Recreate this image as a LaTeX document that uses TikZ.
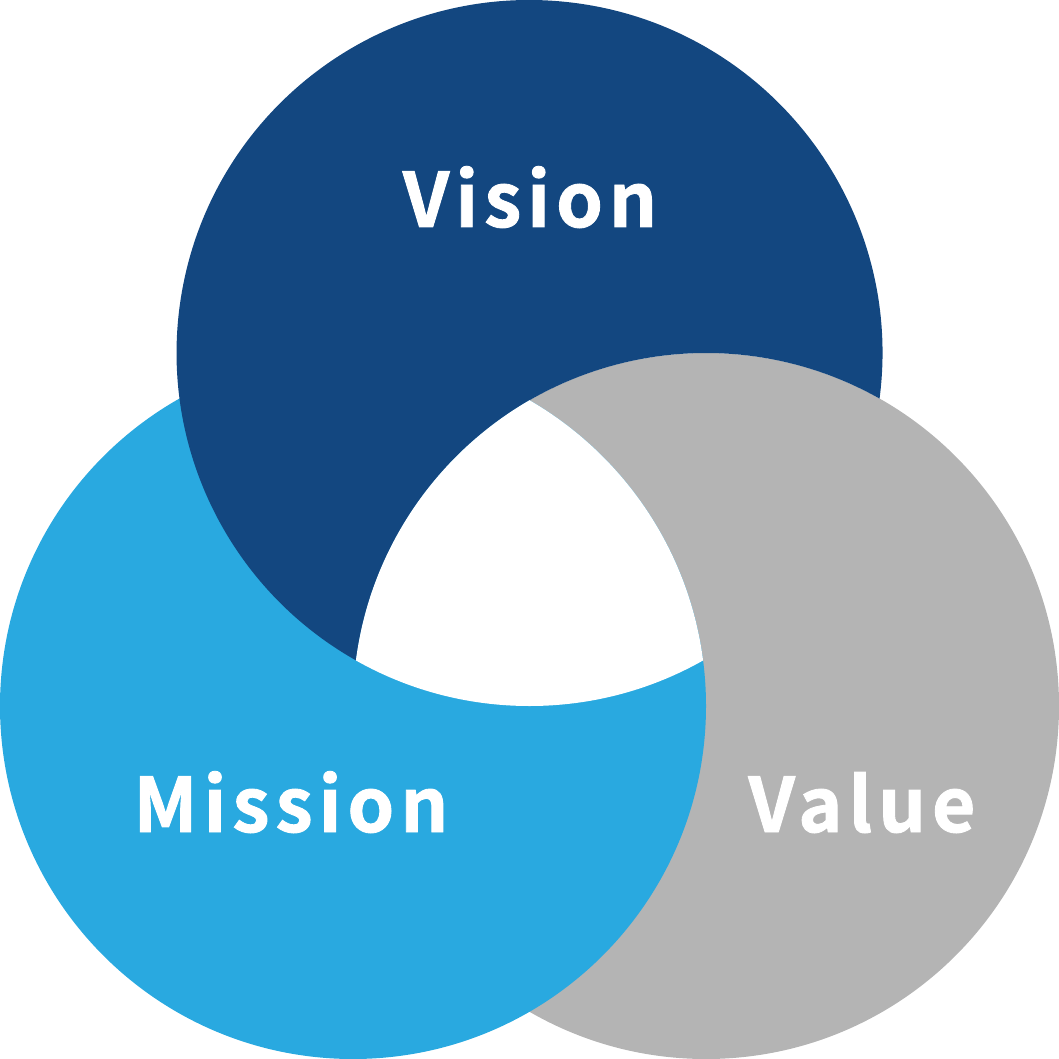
\documentclass[tikz,border=0pt]{standalone}
\usepackage{fontspec}
\newfontfamily\lblfont[LetterSpace=8,FakeBold=1.2]{Noto Sans CJK JP Bold}
\definecolor{vblue}{HTML}{134780}
\definecolor{mblue}{HTML}{29A9E0}
\definecolor{vgray}{HTML}{B4B4B4}
\begin{document}
\begin{tikzpicture}[x=1pt,y=-1pt,
  lbl/.style={text=white,font=\lblfont\fontsize{75}{80}\selectfont,anchor=base,inner sep=0pt}]
\useasboundingbox (0,0) rectangle (1059,1059);
\coordinate (cv) at (529.5,353);
\coordinate (cm) at (353,706);
\coordinate (cw) at (706,706);
\coordinate (p1) at (879.55,398.6);
\def\R{353}
\fill[vgray] (cw) circle (\R);
\fill[mblue] (cm) circle (\R);
% Vision minus Value
\fill[vblue] (p1) arc[start angle=7.42, end angle=-240.55, radius=\R]
  arc[start angle=187.42, end angle=299.45, radius=\R] -- cycle;
\begin{scope}
  \clip (cv) circle (\R);
  \clip (cm) circle (\R);
  \fill[white] (cw) circle (\R);
\end{scope}
\node[lbl] (vision) at (530,227) {Vision};
\node[lbl] (mission) at (291,832) {Mission};
\node[lbl] (value) at (862,832) {Value};
\end{tikzpicture}
\end{document}
